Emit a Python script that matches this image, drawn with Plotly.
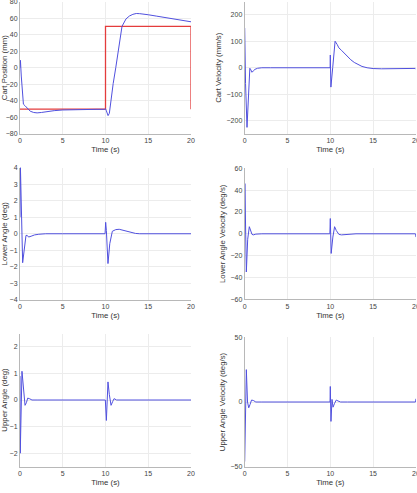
import plotly.graph_objects as go

# ---------------- data ----------------
cart_pos_t = [0, 0.05, 0.15, 0.3, 0.4, 0.6, 0.9, 1.2, 1.6, 2.0, 2.5, 3, 4, 5, 6, 7, 8, 9, 9.9,
              10.0, 10.1, 10.3, 10.45, 10.64, 10.9, 11.2, 11.5, 11.93, 12.4, 12.8, 13.2, 13.6,
              14.0, 14.5, 15, 16, 17, 18, 19, 20]
cart_pos = [0, 9, -10, -38, -44, -46, -49, -52.5, -54, -54.5, -54, -53, -51.8, -51, -50.6, -50.4,
            -50.3, -50.2, -50.2, -49.3, -52, -57.8, -55, -39, -19, 0, 22, 50, 59, 62.5, 64.5, 65.5,
            65.3, 64.8, 64, 62.3, 60.5, 58.5, 56.8, 55.5]

ref_t = [0, 10, 10, 20, 20]
ref_pos = [-50, -50, 50, 50, -50]

cart_vel_t = [0, 0.1, 0.27, 0.4, 0.6, 0.72, 0.85, 1.0, 1.2, 1.5, 2.0, 3, 5, 9.98, 10.0, 10.07,
              10.28, 10.56, 10.8, 11.0, 11.3, 11.6, 12.0, 12.4, 12.8, 13.2, 13.7, 14.3, 15, 16,
              17, 18, 19, 19.9, 20]
cart_vel = [150, -60, -225, -120, -2, -8, -17, -12, -6, -2, 0, 0, 0, 0, 48, -73, 0, 100, 88, 75,
            66, 56, 42, 30, 20, 12, 5, 0, -3, -4, -3.5, -3, -2.5, -2.5, -6]

low_ang_t = [0, 0.05, 0.31, 0.5, 0.7, 0.85, 1.0, 1.3, 1.7, 2.2, 3, 5, 9.95, 10.02, 10.1, 10.29,
             10.5, 10.8, 11.2, 11.6, 12.0, 12.5, 13.0, 13.5, 14, 16, 20]
low_ang = [1, 4, -1.75, -0.9, -0.1, -0.1, -0.2, -0.15, -0.07, -0.03, 0, 0, 0, 0.69, 0.2, -1.8,
           -0.6, 0.15, 0.25, 0.27, 0.22, 0.15, 0.07, 0.02, 0, 0, 0]

low_vel_t = [0, 0.02, 0.19, 0.35, 0.54, 0.7, 0.85, 1.0, 1.3, 2, 9.95, 10.0, 10.1, 10.3, 10.5,
             10.7, 11.0, 11.3, 12, 13, 19.95, 20]
low_vel = [0, 46, -35, -5, 6.5, 3, -0.5, -1, -0.3, 0, 0, 14, -18, -3, 6.5, 3, -0.5, -1, -0.5,
           0, 0, -3]

up_ang_t = [0, 0.03, 0.23, 0.35, 0.59, 0.75, 0.9, 1.1, 1.4, 2, 9.98, 10.1, 10.29, 10.45, 10.65,
            10.85, 11.0, 11.3, 12, 20]
up_ang = [0.9, -2, 1.08, 0.6, -0.2, -0.1, 0.07, 0.05, 0, 0, 0, -0.77, 0.68, 0.2, -0.2, -0.05,
          0.05, 0, 0, 0]

up_vel_t = [0, 0.19, 0.33, 0.47, 0.62, 0.8, 1.0, 1.3, 2, 9.97, 10.0, 10.08, 10.2, 10.32, 10.5,
            10.7, 10.9, 11.2, 12, 19.95, 20]
up_vel = [-46, 25, 0, -4.5, -2, 1.5, 1.2, 0, 0, 0, 12, -15, 2, -4, -1, 1.5, 0.8, 0, 0, 0, 2.5]

x_ticks = [0, 5, 10, 15, 20]
y_titles = ["Cart Position (mm)", "Cart Velocity (mm/s)",
            "Lower Angle (deg)", "Lower Angle Velocity (deg/s)",
            "Upper Angle (deg)", "Upper Angle Velocity (deg/s)"]
y_ranges = [[-80, 80], [-250, 250], [-4, 4], [-60, 60], [-2.5, 2.5], [-50, 50]]
y_ticks = [[-80, -60, -40, -20, 0, 20, 40, 60, 80],
           [-200, -100, 0, 100, 200],
           [-4, -3, -2, -1, 0, 1, 2, 3, 4],
           [-60, -40, -20, 0, 20, 40, 60],
           [-2, -1, 0, 1, 2],
           [-50, 0, 50]]

# ---------------- figure ----------------
W, H = 417, 493
BLUE = "rgb(80,80,222)"
RED = "rgb(228,60,60)"
FONT = "Liberation Sans, Arial, sans-serif"

x_dom_px = [(20, 191), (244.7, 415.9)]
y_dom_px = [[(1.5, 134), (1.5, 134)],
            [(167.5, 300), (168.3, 299.3)],
            [(333.5, 466.5), (337.3, 466.7)]]
y_standoff = [6, 3]

series = [(cart_pos_t, cart_pos), (cart_vel_t, cart_vel), (low_ang_t, low_ang),
          (low_vel_t, low_vel), (up_ang_t, up_ang), (up_vel_t, up_vel)]

fig = go.Figure()
layout = {}
for i in range(6):
    r, c = divmod(i, 2)
    n = i + 1
    xa = "x" if n == 1 else f"x{n}"
    ya = "y" if n == 1 else f"y{n}"
    if i == 0:
        fig.add_trace(go.Scatter(x=ref_t, y=ref_pos, mode="lines",
                                 line=dict(color=RED, width=1.3),
                                 xaxis=xa, yaxis=ya, showlegend=False))
    t, v = series[i]
    fig.add_trace(go.Scatter(x=t, y=v, mode="lines", line=dict(color=BLUE, width=1),
                             xaxis=xa, yaxis=ya, showlegend=False))
    x0, x1 = x_dom_px[c]
    y0, y1 = y_dom_px[r][c]
    common = dict(showgrid=True, gridcolor="#ececec", gridwidth=1, showline=True,
                  linecolor="#b8b8b8", linewidth=1, ticks="", zeroline=False,
                  ticklabeloverflow="allow",
                  tickfont=dict(family=FONT, size=7, color="#444"), automargin=False)
    layout["xaxis" if n == 1 else f"xaxis{n}"] = dict(
        domain=[x0 / W, x1 / W], range=[0, 20], tickvals=x_ticks, anchor=ya,
        title=dict(text="Time (s)", font=dict(family=FONT, size=7.8, color="#333"), standoff=3),
        **common)
    layout["yaxis" if n == 1 else f"yaxis{n}"] = dict(
        domain=[1 - y1 / H, 1 - y0 / H], range=y_ranges[i], tickvals=y_ticks[i], anchor=xa,
        title=dict(text=y_titles[i], font=dict(family=FONT, size=7.8, color="#333"),
                   standoff=y_standoff[c]),
        **common)

fig.update_layout(width=W, height=H, margin=dict(l=0, r=0, t=0, b=0),
                  paper_bgcolor="white", plot_bgcolor="white", **layout)
fig.write_html("out.html")
